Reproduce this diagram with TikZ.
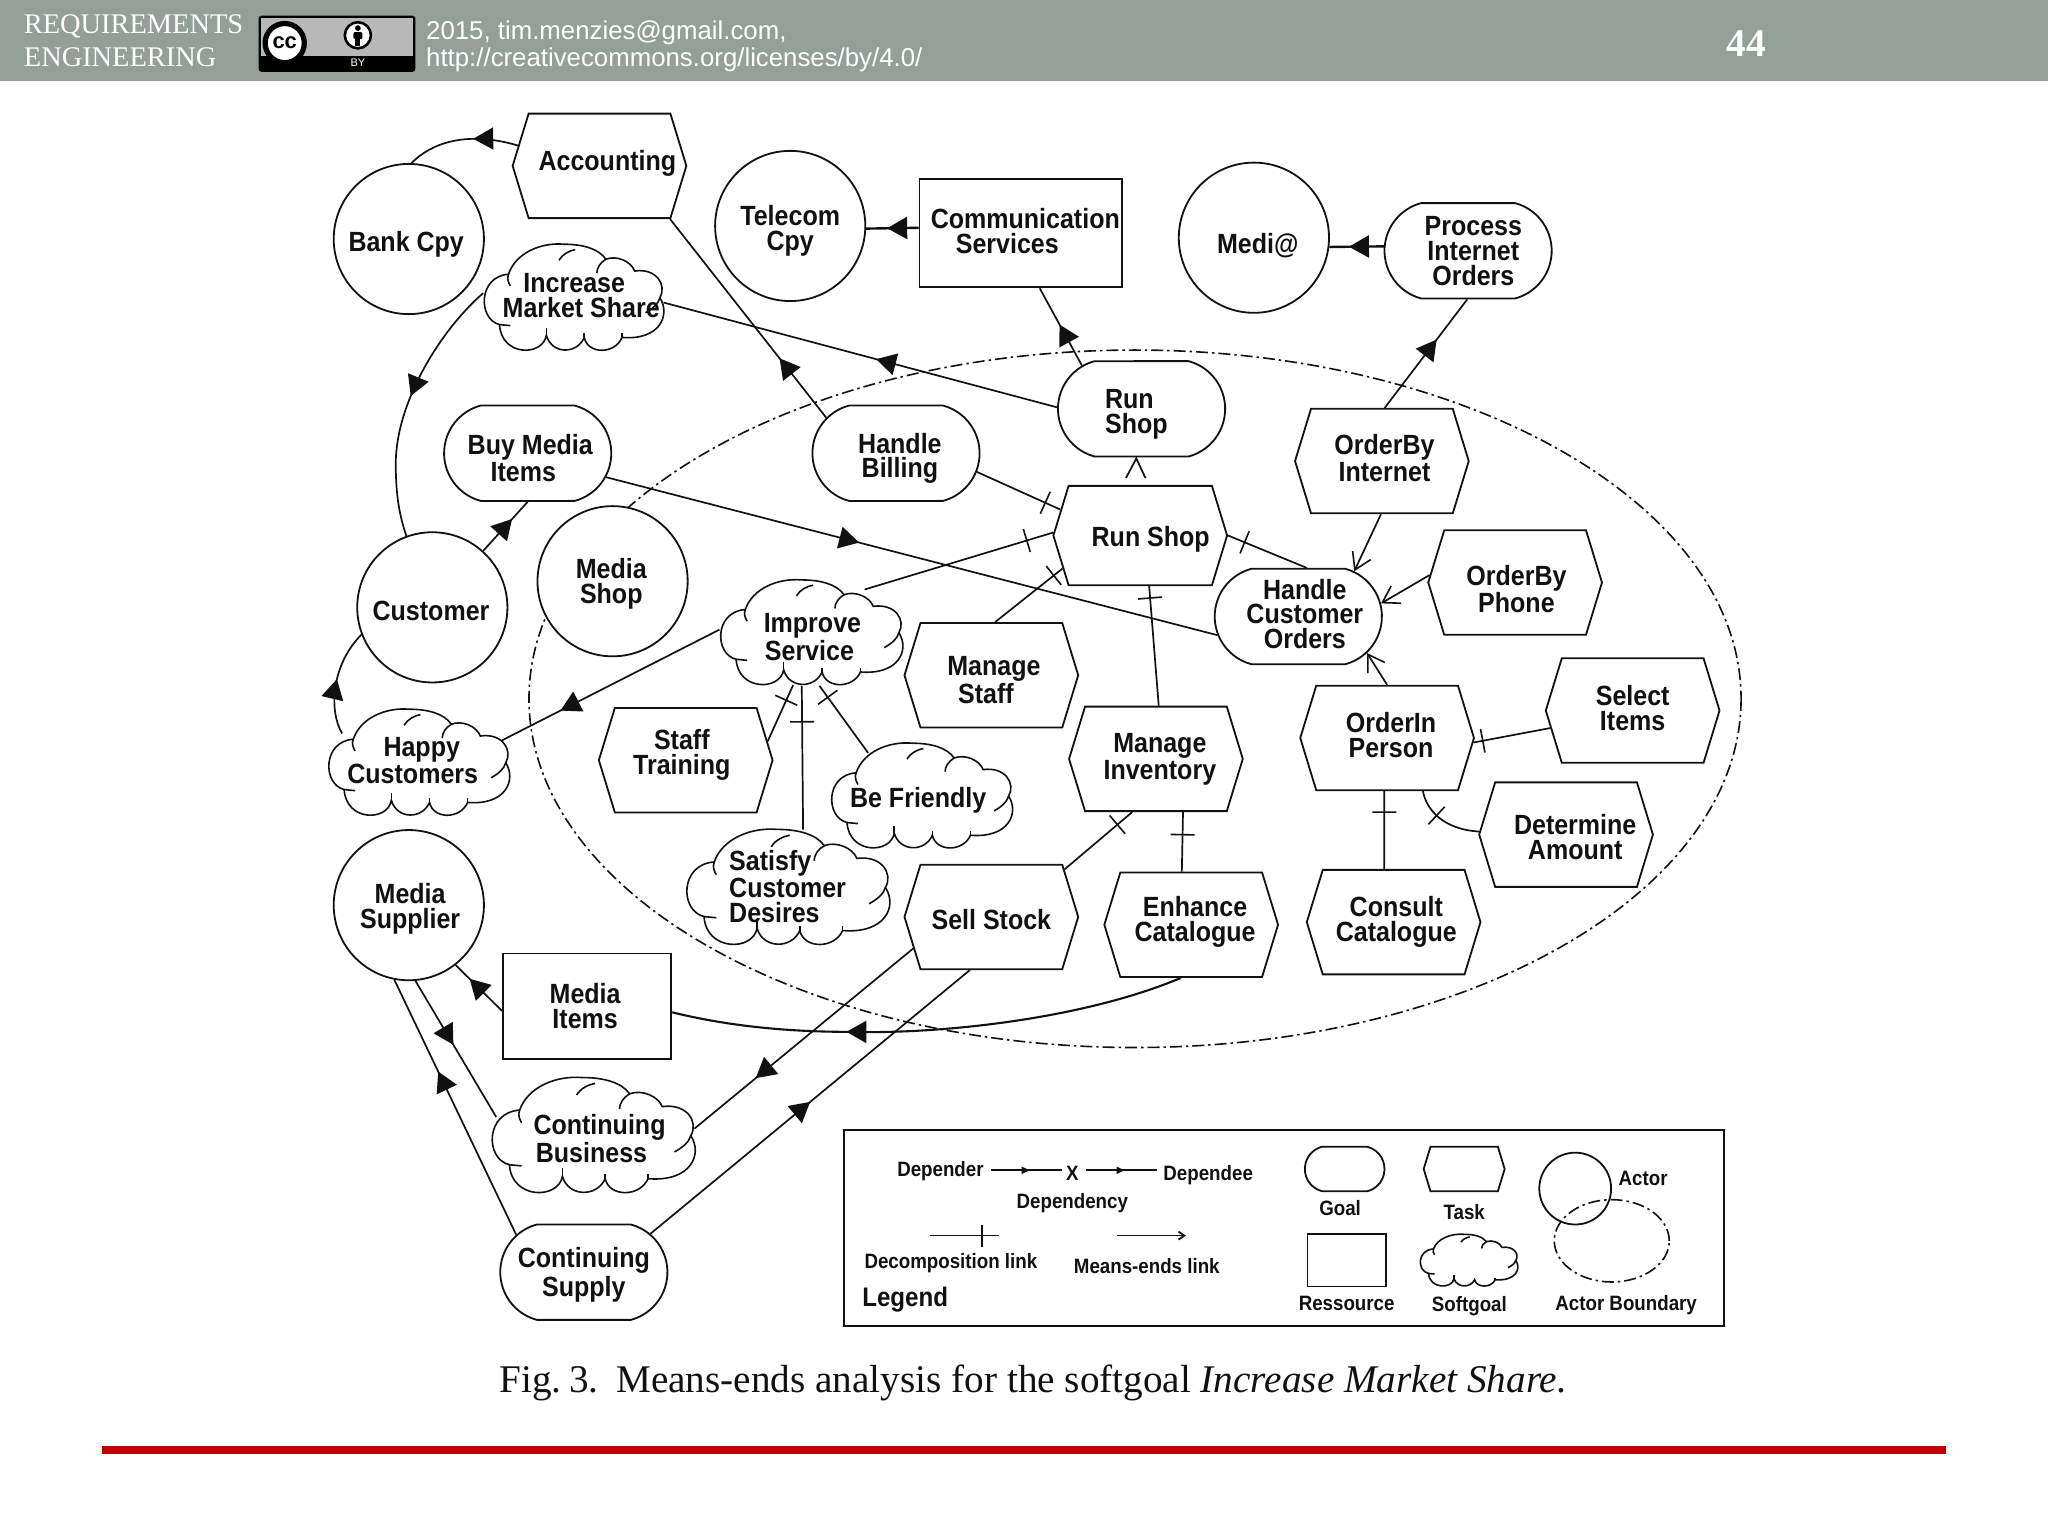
\documentclass[tikz,border=0pt]{standalone}
\usepackage{fontspec}
\setmainfont{Liberation Sans}
\newfontfamily\dfont[FakeStretch=0.9]{Liberation Sans}
\newfontfamily\sfont{Liberation Sans}
\newfontfamily\rfont{Liberation Serif}
\usetikzlibrary{shapes.geometric,shapes.symbols,shapes.misc,arrows.meta,decorations.markings,calc}
\pgfdeclarelayer{bg}
\pgfsetlayers{bg,main}
\definecolor{hdr}{HTML}{939F98}
\definecolor{redline}{HTML}{C00000}
\definecolor{ink}{HTML}{111111}
\tikzset{
  actorn/.style={circle,draw=ink,line width=0.9pt,fill=white,minimum size=115*0.65306pt,inner sep=0pt},
  taskn/.style={signal,signal to=east and west,signal pointer angle=146,draw=ink,line width=0.9pt,fill=white,minimum width=133*0.65306pt,minimum height=80*0.65306pt,inner sep=0pt},
  goaln/.style={rounded rectangle,rounded rectangle arc length=150,draw=ink,line width=0.9pt,fill=white,minimum width=128*0.65306pt,minimum height=73*0.65306pt,inner sep=0pt},
  resn/.style={rectangle,draw=ink,line width=0.9pt,fill=white,inner sep=0pt},
  softn/.style={ellipse,inner sep=0pt},
  txt/.style={font=\dfont\bfseries\fontsize{13.9}{12.4}\selectfont,align=center,inner sep=0pt,text=ink},
  legtxt/.style={font=\dfont\bfseries\fontsize{10.4}{11}\selectfont,inner sep=0pt,text=ink},
  link/.style={draw=ink,line width=0.85pt},
  bound/.style={draw=ink,line width=0.8pt,dash pattern=on 6pt off 2pt on 1.2pt off 2pt},
  dep/.style={postaction={decorate,decoration={markings,mark=at position #1 with {\arrow[ink]{Triangle[length=10pt,width=11pt]}}}}},
  legdep/.style={postaction={decorate,decoration={markings,mark=at position #1 with {\arrow[ink]{Triangle[length=4pt,width=3.5pt]}}}}},
  tk/.style={postaction={decorate,decoration={markings,mark=at position #1 with {\draw[ink,line width=0.8pt] (0pt,-6pt)--(0pt,6pt);}}}},
  means/.style={-{Straight Barb[length=8pt,width=10pt,line width=0.8pt]}},
}
\newcommand{\softgoal}[5]{%
  \begin{scope}[shift={(#2,#3)},xscale=#4/100,yscale=#5/100,draw=ink,line width=0.8pt]
    \draw[fill=white] (14,28) .. controls (18,8) and (32,-2) .. (45,0)
      .. controls (55,0) and (64,4) .. (68,14)
      .. controls (74,10) and (82,16) .. (84,25)
      .. controls (96,22) and (102,38) .. (98,50)
      .. controls (104,66) and (98,90) .. (77,87)
      .. controls (73,103) and (58,103) .. (56,87)
      .. controls (52,103) and (38,103) .. (35,85)
      .. controls (33,105) and (10,105) .. (9,75)
      .. controls (-3,70) and (-3,30) .. (14,28) -- cycle;
    \draw (14,28) .. controls (13,32) and (14,36) .. (15,39);
    \draw (42,15) .. controls (44,9) and (48,6) .. (51,5);
    \draw (63,27) .. controls (63,22) and (65,17) .. (68,14);
    \draw (98,50) .. controls (97,56) and (94,60) .. (90,64);
    \draw (9,75) -- (15,76);
    \draw (35,85) -- (35,78);
    \draw (56,87) -- (56,83);
    \draw (77,87) -- (77,83);
  \end{scope}
  \node[softn,minimum width=#4*0.65306pt,minimum height=#5*0.65306pt] (#1) at ({#2+#4/2},{#3+#5/2}) {};
}
\begin{document}
\begin{tikzpicture}[x=0.65306pt,y=-0.65306pt]
\useasboundingbox (0,0) rectangle (1568,1176);
\begin{pgfonlayer}{bg}
\fill[white] (0,0) rectangle (1568,1176);
\fill[hdr] (0,0) rectangle (1568,62);
\fill[redline] (78,1107) rectangle (1490,1113.5);
\draw[bound] (869,535) ellipse (464 and 267);
\end{pgfonlayer}

% header
\node[anchor=west,inner sep=0pt,text=white,font=\rfont\fontsize{14.2}{16}\selectfont] (hdra) at (18,20) {REQUIREMENTS};
\node[anchor=west,inner sep=0pt,text=white,font=\rfont\fontsize{14.2}{16}\selectfont] (hdrb) at (18,44) {ENGINEERING};
\node[anchor=west,inner sep=0pt,text=white,font=\sfont\fontsize{12.9}{15}\selectfont] (hdrc) at (326,25) {2015, tim.menzies@gmail.com,};
\node[anchor=west,inner sep=0pt,text=white,font=\sfont\fontsize{12.9}{15}\selectfont] (hdrd) at (326,46) {http://creativecommons.org/licenses/by/4.0/};
\node[inner sep=0pt,text=white,font=\rfont\bfseries\fontsize{19.6}{22}\selectfont] (hdre) at (1337,33) {44};
% cc badge
\fill[black,rounded corners=1.5pt] (198,12) rectangle (318,55);
\fill[black!28] (200,14) rectangle (316,43);
\fill[black] (200,43) rectangle (316,53);
\draw[black,line width=2.6pt,fill=white] (218,33) circle (15);
\node[inner sep=0pt,font=\sfont\bfseries\fontsize{11}{11}\selectfont] (cclbl) at (218,33) {cc};
\draw[black,line width=1.3pt,fill=white] (274,27) circle (10);
\fill[black] (274,21.5) circle (2.2);
\fill[black,rounded corners=1pt] (270.5,24.5) rectangle (277.5,30);
\fill[black] (272,30) rectangle (276,35);
\node[inner sep=0pt,text=white,font=\sfont\fontsize{5.5}{6}\selectfont] (bylbl) at (274,48) {BY};

% actors
\node[actorn] (bank) at (313,183) {};
\node[actorn] (telecom) at (605,173) {};
\node[actorn] (medi) at (960,182) {};
\node[actorn] (customer) at (331,465) {};
\node[actorn] (mshop) at (469,445) {};
\node[actorn] (supplier) at (313,693) {};
% tasks
\node[taskn] (acc) at (459,127) {};
\node[taskn] (obi) at (1058,353) {};
\node[taskn,minimum height=76*0.65306pt] (rst) at (873,410) {};
\node[taskn] (obp) at (1160,446) {};
\node[taskn] (mstaff) at (759,517) {};
\node[taskn] (stt) at (525,582) {};
\node[taskn] (minv) at (885,581) {};
\node[taskn] (oip) at (1062,565) {};
\node[taskn] (sel) at (1250,544) {};
\node[taskn] (det) at (1199,639) {};
\node[taskn] (sell) at (759,702) {};
\node[taskn] (enh) at (912,708) {};
\node[taskn] (cons) at (1067,706) {};
% goals
\node[goaln] (pio) at (1124,192) {};
\node[goaln] (rsg) at (874,313) {};
\node[goaln] (bmi) at (404,347) {};
\node[goaln] (hb) at (686,347) {};
\node[goaln] (hco) at (994,472) {};
\node[goaln] (csup) at (447,974) {};
% resources
\node[resn,minimum width=155*0.65306pt,minimum height=83*0.65306pt] (comm) at (781.5,178.5) {};
\node[resn,minimum width=129*0.65306pt,minimum height=81*0.65306pt] (mitems) at (449.5,770.5) {};
% softgoals
\softgoal{ims}{370}{187}{138}{82}
\softgoal{happy}{251}{543}{139}{82}
\softgoal{impr}{551}{444}{140}{81}
\softgoal{bef}{636}{569}{139}{81}
\softgoal{sat}{525}{635}{156}{89}
\softgoal{cbus}{376}{825}{156}{89}

% labels
\node[txt] (t1) at (465,125) {Accounting};
\node[txt] (t2) at (311,187) {Bank Cpy};
\node[txt] (t3) at (445,226) {Increase\hspace*{7pt}\\Market Share};
\node[txt] (t4) at (605,177) {Telecom\\Cpy};
\node[txt] (t5) at (785,177) {Communication\\Services\hspace*{18pt}};
\node[txt] (t6) at (963,188) {Medi@};
\node[txt] (t7) at (1128,192) {Process\\Internet\\Orders};
\node[txt] (t8) at (870,317) {Run\hspace*{7pt}\\Shop};
\node[txt] (t9) at (689,351) {Handle\\Billing};
\node[txt] (t10) at (1060,351) {OrderBy\\Internet};
\node[txt] (t11) at (406,351) {Buy Media\\Items\hspace*{7pt}};
\node[txt] (t12) at (881,413) {Run Shop};
\node[txt] (t13) at (330,468) {Customer};
\node[txt] (t14) at (468,447) {Media\\Shop};
\node[txt] (t15) at (622,488) {Improve\\Service\hspace*{3pt}};
\node[txt] (t16) at (999,470) {Handle\\Customer\\Orders};
\node[txt] (t17) at (1161,451) {OrderBy\\Phone};
\node[txt] (t18) at (761,521) {Manage\\Staff\hspace*{8pt}};
\node[txt] (t19) at (522,578) {Staff\\Training};
\node[txt] (t20) at (888,581) {Manage\\Inventory};
\node[txt] (t21) at (1065,563) {OrderIn\\Person};
\node[txt] (t22) at (1250,542) {Select\\Items};
\node[txt] (t23) at (1206,641) {Determine\\Amount};
\node[txt] (t24) at (316,582) {\hspace*{9pt}Happy\\Customers};
\node[txt] (t25) at (703,613) {Be Friendly};
\node[txt,align=left] (t26) at (603,679) {Satisfy\\Customer\\Desires};
\node[txt] (t27) at (314,696) {Media\\Supplier};
\node[txt] (t28) at (759,704) {Sell Stock};
\node[txt] (t29) at (915,706) {Enhance\\Catalogue};
\node[txt] (t30) at (1069,706) {Consult\\Catalogue};
\node[txt] (t31) at (448,770) {Media\\Items};
\node[txt] (t32) at (459,872) {Continuing\\Business\hspace*{8pt}};
\node[txt] (t33) at (447,976) {Continuing\\Supply};

% connectors
\coordinate (mlow) at (650,790);
\coordinate (rsT) at (870,351);
\begin{pgfonlayer}{bg}
\draw[link,dep=0.4] (acc.166) .. controls (365,102) and (335,105) .. (bank.88);
\draw[link,dep=0.3] (hb.153) -- (acc.323);
\draw[link,dep=0.6,line width=1.2pt] (comm.177) -- (telecom.358);
\draw[link,dep=0.53] (rsg.144) -- (comm.289);
\draw[link,dep=0.64,line width=1.2pt] (pio.177) -- (medi.353);
\draw[link,dep=0.63] (obi.87) -- (pio.269);
\draw[link,dep=0.46] (rsg.179) -- (ims.357);
\draw[link,dep=0.47] (ims.177) .. controls (335,255) and (303,310) .. (303,355) .. controls (303,380) and (306,395) .. (customer.110);
\draw[link,dep=0.65] (customer.48) -- (bmi.270);
\draw[link,dep=0.414] (bmi.343) -- (hco.193);
\draw[link,tk=0.82] (hb.347) -- (rst.162);
\draw[link,tk=0.86] (impr.39) -- (rst.178);
\draw[link,tk=0.87] (mstaff.86) -- (rst.203);
\draw[link,tk=0.21] (rst.0) -- (hco.80);
\draw[link,tk=0.1] (rst.280) -- (minv.87);
\draw[link,means] (obi.269) -- (hco.39);
\draw[link,means] (obp.175) -- (hco.9);
\draw[link,means] (oip.90) -- (hco.332);
\draw[link,tk=0.88] (sel.192) -- (oip.357);
\draw[link,tk=0.62] (det.178) .. controls (1105,635) and (1092,620) .. (oip.304);
\draw[link,tk=0.27] (oip.267) -- (cons.100);
\draw[link,tk=0.38] (minv.297) -- (enh.100);
\draw[link,tk=0.22] (minv.246) -- (sell.33);
\draw[link,tk=0.27] (impr.251) -- (stt.13);
\draw[link,tk=0.25] (impr.260) -- (sat.75);
\draw[link,tk=0.17] (impr.279) -- (bef.141);
\draw[link,dep=0.73] (impr.178) -- (happy.15);
\draw[link,dep=0.52] (happy.159) .. controls (252,545) and (253,510) .. (customer.201);
\draw[link,dep=0.7] (mitems.183) -- (supplier.308);
\draw[link,dep=0.47] (supplier.275) -- (cbus.169);
\draw[link,dep=0.64] (csup.151) -- (supplier.259);
\draw[link,dep=0.72] (sell.202) -- (cbus.4);
\draw[link,dep=0.5] (csup.30) -- (sell.248);
\draw[link,dep=0.66,line width=1.05pt] (enh.259) .. controls (830,780) and (720,792) .. (mlow) .. controls (600,790) and (555,785) .. (mitems.356);
\draw[link] ($(rsT)+(-8,15)$) -- (rsT) -- ($(rsT)+(7,15)$);
\end{pgfonlayer}

% legend
\node[rectangle,draw=ink,line width=1.1pt,fill=white,minimum width=674*0.65306pt,minimum height=150*0.65306pt,inner sep=0pt] (legend) at (983,940) {};
\node[legtxt] (l1) at (720,897) {Depender};
\node[legtxt] (l2) at (821,898) {X};
\node[legtxt] (l3) at (925,900) {Dependee};
\node[legtxt] (l4) at (821,921) {Dependency};
\draw[link,legdep=0.55] ($(l1.east)+(5,-1)$) -- ($(l2.west)+(-3,-2)$);
\draw[link,legdep=0.55] ($(l2.east)+(5,-2)$) -- ($(l3.west)+(-5,-4)$);
\node[legtxt] (l5) at (728,967) {Decomposition link};
\node[legtxt] (l6) at (878,969) {Means-ends link};
\node[legtxt,font=\dfont\bfseries\fontsize{13.4}{14}\selectfont] (l7) at (693,995) {Legend};
\coordinate (da) at (712,946);
\coordinate (db) at (765,946);
\draw[link,postaction={decorate,decoration={markings,mark=at position 0.75 with {\draw[ink,line width=0.8pt] (0pt,-5.5pt)--(0pt,5.5pt);}}}] (da) -- (db);
\coordinate (ma) at (855,946);
\coordinate (mb) at (908,946);
\draw[link,-{Straight Barb[length=3pt,width=4pt]}] (ma) -- (mb);
\node[goaln,minimum width=61*0.65306pt,minimum height=34*0.65306pt] (lgoal) at (1029.5,895) {};
\node[legtxt] (l8) at (1026,925) {Goal};
\node[taskn,minimum width=62*0.65306pt,minimum height=34*0.65306pt] (ltask) at (1121,895) {};
\node[legtxt] (l9) at (1121,928) {Task};
\node[resn,minimum width=60*0.65306pt,minimum height=40*0.65306pt] (lres) at (1031,965) {};
\node[legtxt] (l10) at (1031,998) {Ressource};
\softgoal{lsoft}{1087}{945}{75}{40}
\node[legtxt] (l11) at (1125,1000) {Softgoal};
\node[actorn,fill=none,minimum size=55*0.65306pt] (lact) at (1206,910) {};
\node[legtxt] (l12) at (1258,902) {Actor};
\node[ellipse,bound,minimum width=88*0.65306pt,minimum height=63*0.65306pt,inner sep=0pt] (lbd) at (1234,950) {};
\node[legtxt] (l13) at (1245,999) {Actor Boundary};

% caption
\node[anchor=west,inner sep=0pt,text=ink,font=\rfont\fontsize{19.6}{22}\selectfont] (cap) at (382,1059) {Fig.\hspace{0.2em}3.\hspace{0.45em}Means-ends analysis for the softgoal \textit{Increase Market Share.}};
\end{tikzpicture}
\end{document}
